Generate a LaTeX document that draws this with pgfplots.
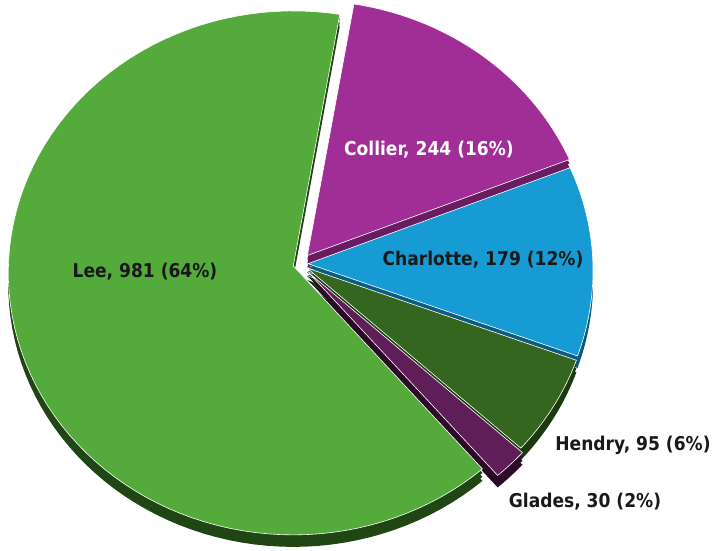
\documentclass[border=0pt]{standalone}
\usepackage{pgfplots}
\usepackage{pgfplotstable}
\pgfplotsset{compat=1.18}
\usepackage{fontspec}
\setmainfont{DejaVu Sans Condensed}

\definecolor{cLee}{RGB}{84,170,58}
\definecolor{cLeeS}{RGB}{32,70,20}
\definecolor{cCol}{RGB}{160,46,150}
\definecolor{cColS}{RGB}{105,28,98}
\definecolor{cCha}{RGB}{22,155,212}
\definecolor{cChaS}{RGB}{12,92,128}
\definecolor{cHen}{RGB}{52,102,32}
\definecolor{cHenS}{RGB}{28,58,16}
\definecolor{cGla}{RGB}{96,30,88}
\definecolor{cGlaS}{RGB}{44,10,40}
\definecolor{txt}{RGB}{25,25,25}

\pgfplotstableread{
name value
Lee 981
Collier 244
Charlotte 179
Hendry 95
Glades 30
}\piedata

\pgfplotstablegetelem{0}{value}\of\piedata \let\vLee\pgfplotsretval
\pgfplotstablegetelem{1}{value}\of\piedata \let\vCol\pgfplotsretval
\pgfplotstablegetelem{2}{value}\of\piedata \let\vCha\pgfplotsretval
\pgfplotstablegetelem{3}{value}\of\piedata \let\vHen\pgfplotsretval
\pgfplotstablegetelem{4}{value}\of\piedata \let\vGla\pgfplotsretval
\pgfmathsetmacro\total{\vLee+\vCol+\vCha+\vHen+\vGla}
% angles, clockwise from Collier start
\pgfmathsetmacro\aA{80.6}
\pgfmathsetmacro\aB{\aA-360*(\vCol/\total)}
\pgfmathsetmacro\aC{\aB-360*(\vCha/\total)}
\pgfmathsetmacro\aD{\aC-360*(\vHen/\total)}
\pgfmathsetmacro\aE{\aD-360*(\vGla/\total)}
\pgfmathsetmacro\aF{\aE-360*(\vLee/\total)}
% geometry (pixels, y up)
\def\Ex{300}\def\Ey{279}\def\rx{285}\def\ry{262}
\def\Vx{300}\def\Vy{286}
% explode offsets
\def\LeeDx{-6.7}\def\LeeDy{-1.9}
\def\ColDx{7.4}\def\ColDy{8.5}
\def\ChaDx{8}\def\ChaDy{0.3}
\def\HenDx{6.9}\def\HenDy{-4}
\def\GlaDx{8.5}\def\GlaDy{-8.5}

\newcommand\pslice[6]{%
 \pgfmathsetmacro\vxx{\Vx+(#3)}\pgfmathsetmacro\vyy{\Vy+(#4)}%
 \pgfmathsetmacro\exx{\Ex+(#3)}\pgfmathsetmacro\eyy{\Ey+(#4)}%
 \edef\temp{\noexpand\addplot[fill=#5,#6,domain=#2:#1,samples=90,variable=\noexpand\t,mark=none]
   ({\exx+\rx*cos(\noexpand\t)},{\eyy+\ry*sin(\noexpand\t)}) -- (axis cs:\vxx,\vyy) -- cycle;}%
 \temp}
\newcommand\pside[5]{%
 \pslice{#1}{#2}{#3}{#4-4}{#5}{draw=none}%
 \pslice{#1}{#2}{#3}{#4-8}{#5}{draw=none}%
 \pslice{#1}{#2}{#3}{#4-12}{#5}{draw=none}%
}

\begin{document}
\begin{tikzpicture}
\begin{axis}[x=1pt,y=1pt,xmin=0,xmax=718,ymin=0,ymax=550,hide axis,clip=false]
\pside{\aA}{\aB}{\ColDx}{\ColDy}{cColS}
\pside{\aB}{\aC}{\ChaDx}{\ChaDy}{cChaS}
\pside{\aE}{\aF}{\LeeDx}{\LeeDy}{cLeeS}
\pside{\aC}{\aD}{\HenDx}{\HenDy}{cHenS}
\pside{\aD}{\aE}{\GlaDx}{\GlaDy}{cGlaS}
\pslice{\aA}{\aB}{\ColDx}{\ColDy}{cCol}{draw=white,line width=0.6pt}
\pslice{\aB}{\aC}{\ChaDx}{\ChaDy}{cCha}{draw=white,line width=0.6pt}
\pslice{\aE}{\aF}{\LeeDx}{\LeeDy}{cLee}{draw=white,line width=0.6pt}
\pslice{\aC}{\aD}{\HenDx}{\HenDy}{cHen}{draw=white,line width=0.6pt}
\pslice{\aD}{\aE}{\GlaDx}{\GlaDy}{cGla}{draw=white,line width=0.6pt}
\tikzset{lbl/.style={font=\bfseries\fontsize{19}{22}\selectfont,text=txt,inner sep=0pt}}
\node[lbl] at (axis cs:145,278) {Lee, 981 (64\%)};
\node[lbl,text=white] at (axis cs:429,400) {Collier, 244 (16\%)};
\node[lbl] at (axis cs:483,290) {Charlotte, 179 (12\%)};
\node[lbl] at (axis cs:633,105) {Hendry, 95 (6\%)};
\node[lbl] at (axis cs:585,48) {Glades, 30 (2\%)};
\end{axis}
\pgfresetboundingbox
\path (current axis.south west) rectangle (current axis.north east);
\end{tikzpicture}
\end{document}
